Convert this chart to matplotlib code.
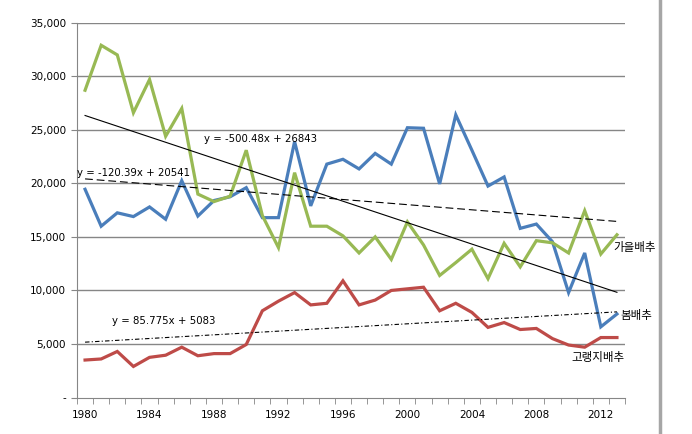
import numpy as np
import matplotlib
matplotlib.use("Agg")
import matplotlib.pyplot as plt
from matplotlib.lines import Line2D

plt.rcParams['font.family'] = ['DejaVu Sans', 'Noto Sans CJK KR']

# ---- data ----
years = list(range(1980, 2014))

spring = [19450, 16000, 17250, 16900, 17800, 16650, 20250, 16950, 18400, 18750,
          19600, 16800, 16800, 23900, 17900, 21800, 22250, 21350, 22800, 21800,
          25200, 25150, 19950, 26400, 23100, 19750, 20600, 15800, 16200, 14550,
          9800, 13500, 6600, 7800]

autumn = [28700, 32900, 32000, 26600, 29700, 24400, 27000, 19000, 18300, 18800,
          23100, 17000, 14000, 21000, 16000, 16000, 15100, 13500, 15000, 12900,
          16400, 14250, 11400, 12600, 13850, 11100, 14400, 12200, 14650, 14450,
          13500, 17450, 13400, 15200]

highland = [3500, 3600, 4300, 2900, 3750, 3950, 4700, 3900, 4100, 4100,
            4950, 8100, 9000, 9800, 8650, 8800, 10900, 8650, 9100, 10000,
            10150, 10300, 8100, 8800, 7950, 6550, 7000, 6350, 6450, 5500,
            4900, 4700, 5600, 5600]

series_names = ["봄배추", "가을배추", "고랭지배추"]

# trend line coefficients (slope, intercept) shown on the chart, x = 1..34
trend_autumn = (-500.48, 26843)
trend_spring = (-120.39, 20541)
trend_highland = (85.775, 5083)

yticks = [0, 5000, 10000, 15000, 20000, 25000, 30000, 35000]
ytick_labels = ["-", "5,000", "10,000", "15,000", "20,000", "25,000", "30,000", "35,000"]

# ---- figure ----
fig = plt.figure(figsize=(6.92, 4.34), dpi=100)
ax = fig.add_axes([77 / 692, 1 - 397.5 / 434, 548 / 692, 374.7 / 434])

x = np.arange(1, len(years) + 1)

ax.set_xlim(0.5, len(years) + 0.5)
ax.set_ylim(0, 35000)

for v in yticks[1:]:
    ax.axhline(v, color="#868686", lw=1.0, zorder=1)

ax.plot(x, spring, color="#4A7EBB", lw=2.3, solid_joinstyle="miter", zorder=3)
ax.plot(x, autumn, color="#98B954", lw=2.3, solid_joinstyle="miter", zorder=3)
ax.plot(x, highland, color="#BE4B48", lw=2.3, solid_joinstyle="miter", zorder=3)

# trend lines
ax.plot(x, trend_autumn[0] * x + trend_autumn[1], color="black", lw=0.8, zorder=4)
ax.plot(x, trend_spring[0] * x + trend_spring[1], color="black", lw=0.8,
        dashes=(7, 3.5), zorder=4)
ax.plot(x, trend_highland[0] * x + trend_highland[1], color="black", lw=0.8,
        dashes=(4, 2, 1, 2), zorder=4)

# equation labels
ax.text(8.4, 23900, "y = -500.48x + 26843", fontsize=7.3, zorder=5)
ax.text(0.5, 20730, "y = -120.39x + 20541", fontsize=7.3, zorder=5)
ax.text(2.7, 6870, "y = 85.775x + 5083", fontsize=7.3, zorder=5)

# series labels
kr = ['Noto Sans CJK KR', 'DejaVu Sans']
ax.text(33.75, 14050, series_names[1], fontsize=8.3, family=kr, va="center",
        clip_on=False)
ax.text(34.2, 7700, series_names[0], fontsize=8.3, family=kr, va="center",
        clip_on=False)
ax.text(34.5, 3700, series_names[2], fontsize=8.3, family=kr, va="center",
        ha="right", clip_on=False)

# axes styling
for s in ["top", "right"]:
    ax.spines[s].set_visible(False)
ax.spines["left"].set_color("#868686")
ax.spines["bottom"].set_color("#868686")

ax.set_yticks(yticks)
ax.set_yticklabels(ytick_labels, fontsize=7.5)
ax.tick_params(axis="y", length=4, color="#868686", pad=4)

ax.set_xticks(x[::4])
ax.set_xticklabels([str(y) for y in years[::4]], fontsize=7.5)
ax.set_xticks(np.arange(0.5, len(years) + 1, 1.0), minor=True)
ax.tick_params(axis="x", which="major", length=0, pad=9)
ax.tick_params(axis="x", which="minor", length=4, color="#868686")

# chart border on the right
fig.add_artist(Line2D([660 / 692, 660 / 692], [0, 1], color="#A6A6A6", lw=2.5,
                      transform=fig.transFigure))

fig.savefig("out.png", dpi=100, facecolor="white")
